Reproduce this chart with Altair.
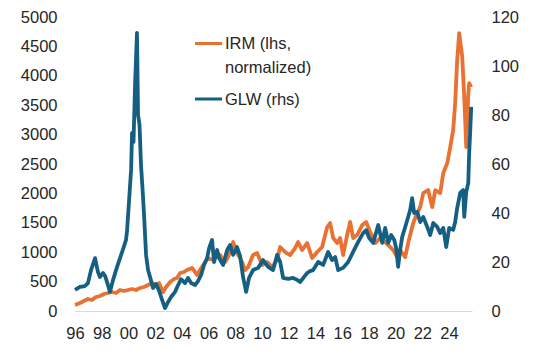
import altair as alt
import pandas as pd

# ---- data ----
irm_year = [1996.0, 1996.37, 1996.67, 1996.97, 1997.27, 1997.57, 1997.87, 1998.17, 1998.47, 1998.77,
            1999.07, 1999.37, 1999.67, 1999.97, 2000.27, 2000.57, 2000.87, 2001.17, 2001.47, 2001.77,
            2002.07, 2002.29, 2002.59, 2002.82, 2003.12, 2003.42, 2003.64, 2003.87, 2004.16, 2004.39,
            2004.76, 2004.99, 2005.14, 2005.36, 2005.59, 2005.96, 2006.34, 2006.64, 2006.86, 2007.24,
            2007.46, 2007.69, 2007.84, 2007.99, 2008.13, 2008.36, 2008.51, 2008.73, 2008.96, 2009.33,
            2009.63, 2010.01, 2010.38, 2010.76, 2011.13, 2011.36, 2011.73, 2012.1, 2012.48, 2012.7,
            2013.0, 2013.38, 2013.75, 2014.13, 2014.5, 2014.88, 2015.1, 2015.33, 2015.63, 2015.85,
            2016.07, 2016.37, 2016.6, 2016.82, 2017.12, 2017.5, 2017.8, 2018.1, 2018.47, 2018.85,
            2019.22, 2019.45, 2019.82, 2020.12, 2020.34, 2020.49, 2020.72, 2020.94, 2021.32, 2021.62,
            2021.84, 2022.07, 2022.44, 2022.74, 2022.97, 2023.34, 2023.57, 2023.87, 2024.09, 2024.31,
            2024.46, 2024.61, 2024.76, 2024.99, 2025.14, 2025.29, 2025.44, 2025.51, 2025.66]
irm_value = [102, 136, 170, 204, 187, 238, 255, 289, 306, 323,
             306, 357, 340, 357, 374, 357, 391, 408, 442, 476,
             442, 476, 323, 408, 493, 544, 561, 646, 663, 697,
             731, 663, 612, 697, 782, 901, 867, 935, 952, 833,
             918, 1071, 1173, 1071, 986, 901, 833, 697, 748, 952,
             986, 782, 833, 748, 867, 1088, 1003, 952, 1071, 1173,
             1037, 1156, 901, 1003, 1088, 1428, 1496, 1241, 1156, 1241,
             952, 1292, 1513, 1241, 1292, 1462, 1513, 1343, 1156, 1241,
             1173, 1122, 1037, 918, 1037, 986, 918, 1156, 1496, 1666,
             1768, 2006, 2057, 1768, 2057, 2006, 2346, 2516, 2788, 3077,
             3536, 4267, 4726, 4318, 3638, 2788, 3672, 3876, 3808]

glw_year = [1996.0, 1996.37, 1996.75, 1996.97, 1997.2, 1997.5, 1997.72, 1997.87, 1998.1, 1998.25,
            1998.4, 1998.62, 1998.85, 1999.15, 1999.37, 1999.6, 1999.82, 1999.9, 2000.05, 2000.2,
            2000.27, 2000.38, 2000.5, 2000.64, 2000.72, 2000.83, 2000.94, 2001.06, 2001.17, 2001.32,
            2001.47, 2001.62, 2001.84, 2002.07, 2002.3, 2002.52, 2002.74, 2002.97, 2003.19, 2003.49,
            2003.72, 2003.94, 2004.24, 2004.46, 2004.69, 2004.99, 2005.21, 2005.44, 2005.66, 2005.89,
            2006.04, 2006.26, 2006.41, 2006.64, 2006.79, 2007.09, 2007.39, 2007.61, 2007.84, 2008.13,
            2008.36, 2008.58, 2008.81, 2009.03, 2009.33, 2009.71, 2010.08, 2010.46, 2010.83, 2011.13,
            2011.36, 2011.58, 2011.96, 2012.33, 2012.63, 2012.85, 2013.15, 2013.38, 2013.6, 2013.83,
            2014.2, 2014.58, 2014.95, 2015.25, 2015.48, 2015.7, 2016.07, 2016.45, 2016.82, 2017.2,
            2017.57, 2017.8, 2018.02, 2018.32, 2018.7, 2019.0, 2019.22, 2019.45, 2019.67, 2019.9,
            2020.04, 2020.19, 2020.34, 2020.49, 2020.72, 2020.94, 2021.09, 2021.24, 2021.39, 2021.62,
            2021.84, 2022.07, 2022.37, 2022.59, 2022.82, 2023.12, 2023.34, 2023.57, 2023.79, 2024.01,
            2024.31, 2024.46, 2024.61, 2024.84, 2025.06, 2025.14, 2025.29, 2025.44, 2025.51, 2025.59,
            2025.66]
glw_value = [8.6, 9.8, 10.2, 11.4, 16.7, 21.6, 15.9, 13.9, 15.5, 14.3,
             11.8, 7.8, 12.7, 18.0, 21.6, 25.3, 29.0, 33.0, 45.3, 57.6,
             72.7, 69.0, 93.0, 113.5, 80.0, 76.0, 59.6, 49.4, 39.0, 22.9,
             16.7, 13.9, 9.4, 11.0, 8.2, 4.5, 1.2, 3.7, 5.7, 7.8,
             10.6, 13.0, 11.4, 13.5, 11.4, 10.6, 12.2, 14.7, 18.8, 21.6,
             25.7, 29.0, 20.0, 24.9, 21.6, 18.8, 24.9, 26.9, 22.9, 26.1,
             22.4, 13.9, 7.8, 13.5, 16.7, 17.6, 20.8, 18.0, 16.7, 22.9,
             20.0, 13.5, 13.1, 13.5, 12.7, 11.8, 13.9, 15.5, 16.3, 16.7,
             20.0, 18.8, 24.1, 20.8, 22.0, 16.7, 17.6, 20.0, 24.1, 28.2,
             31.8, 33.0, 29.8, 27.8, 35.1, 27.8, 33.9, 27.8, 31.0, 29.0,
             25.7, 18.0, 24.9, 30.2, 34.3, 38.4, 41.2, 46.1, 40.0, 40.4,
             36.3, 38.4, 34.3, 31.0, 35.9, 34.3, 31.8, 33.9, 26.1, 33.9,
             33.1, 36.3, 42.0, 48.2, 49.4, 38.4, 48.6, 52.2, 64.5, 73.9,
             83.3]

x_ticks = [1996, 1998, 2000, 2002, 2004, 2006, 2008, 2010, 2012, 2014,
           2016, 2018, 2020, 2022, 2024]
left_ticks = [0, 500, 1000, 1500, 2000, 2500, 3000, 3500, 4000, 4500, 5000]
right_ticks = [0, 20, 40, 60, 80, 100, 120]

ORANGE = "#E97132"
BLUE = "#156082"
TEXT = "#262626"
FONT = "Liberation Sans"

irm_df = pd.DataFrame({"year": irm_year, "value": irm_value})
glw_df = pd.DataFrame({"year": glw_year, "value": glw_value})

x_enc = alt.X(
    "year:Q",
    scale=alt.Scale(domain=[1996, 2025.72], nice=False, zero=False),
    axis=alt.Axis(
        values=x_ticks, format="d", labelExpr="substring(datum.label, 2)",
        title=None, grid=False, ticks=False, domain=True,
        domainColor="#D9D9D9", domainWidth=1, labelPadding=14,
        labelFontSize=16.5, labelFont=FONT, labelColor=TEXT, labelFlush=False,
    ),
)

irm = alt.Chart(irm_df).mark_line(color=ORANGE, strokeWidth=3.8, strokeJoin="round").encode(
    x=x_enc,
    y=alt.Y(
        "value:Q",
        scale=alt.Scale(domain=[0, 5000], nice=False),
        axis=alt.Axis(
            values=left_ticks, format="d", title=None, grid=False, ticks=False,
            domain=False, orient="left", labelPadding=18, labelFontSize=16.5,
            labelFont=FONT, labelColor=TEXT,
        ),
    ),
)

glw = alt.Chart(glw_df).mark_line(color=BLUE, strokeWidth=3.8, strokeJoin="round").encode(
    x=x_enc,
    y=alt.Y(
        "value:Q",
        scale=alt.Scale(domain=[0, 120], nice=False),
        axis=alt.Axis(
            values=right_ticks, format="d", title=None, grid=False, ticks=False,
            domain=False, orient="right", labelPadding=19, labelFontSize=16.5,
            labelFont=FONT, labelColor=TEXT,
        ),
    ),
)

one = alt.Data(values=[{}])

leg_irm_line = alt.Chart(one).mark_rule(color=ORANGE, strokeWidth=3).encode(
    x=alt.value(120), x2=alt.value(147), y=alt.value(26.5))
leg_glw_line = alt.Chart(one).mark_rule(color=BLUE, strokeWidth=3).encode(
    x=alt.value(120), x2=alt.value(147), y=alt.value(82))
txt_style = dict(align="left", baseline="middle", fontSize=16.5, font=FONT, color=TEXT)
leg_t1 = alt.Chart(one).mark_text(text="IRM (lhs,", **txt_style).encode(
    x=alt.value(150), y=alt.value(27))
leg_t2 = alt.Chart(one).mark_text(text="normalized)", **txt_style).encode(
    x=alt.value(150), y=alt.value(51))
leg_t3 = alt.Chart(one).mark_text(text="GLW (rhs)", **txt_style).encode(
    x=alt.value(150), y=alt.value(83))

chart = (
    alt.layer(irm, glw, leg_irm_line, leg_glw_line, leg_t1, leg_t2, leg_t3)
    .resolve_scale(y="independent")
    .properties(
        width=397, height=294,
        autosize=alt.AutoSizeParams(type="none"),
        padding={"left": 75, "top": 17, "right": 71, "bottom": 40},
        background="white",
    )
    .configure_view(stroke=None)
)

chart.save("out.html", embed_options={"renderer": "svg", "actions": False})
